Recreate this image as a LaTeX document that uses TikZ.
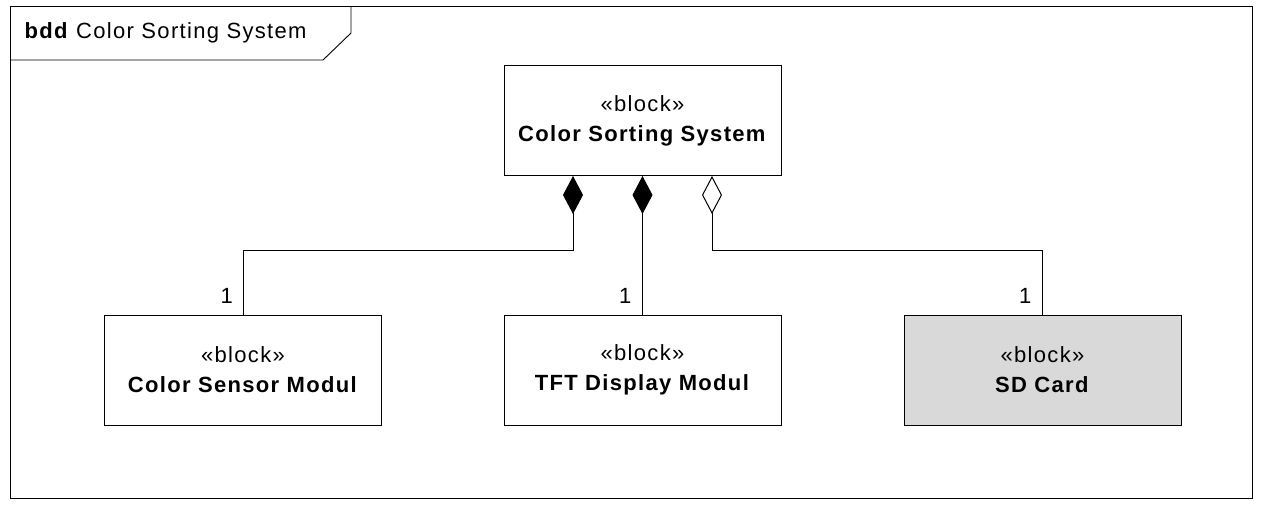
\documentclass[tikz,border=0pt]{standalone}
\usepackage{fontspec}
\setmainfont[LetterSpace=6]{Liberation Sans}
\usepackage{tikz}
\usetikzlibrary{arrows.meta,positioning}

\tikzset{
  blockbox/.style={draw,line width=1pt,minimum width=277pt,minimum height=110pt,align=center,font=\fontsize{22}{30}\selectfont},
  partof/.style={{Diamond[length=38pt,width=20pt,line width=1pt]}-,line width=1pt},
  sharedof/.style={{Diamond[open,length=38pt,width=20pt,line width=1pt]}-,line width=1pt},
  mult/.style={font=\fontsize{22}{24}\selectfont,inner sep=2pt}
}

\begin{document}
\begin{tikzpicture}[x=1pt,y=-1pt]
				\useasboundingbox (0,0) rectangle (1262,506);
				% frame of the bdd
				\draw[line width=0.9pt] (10,6) rectangle (1252,498);
				\draw[line width=0.9pt] (10,60) -- (323,60) -- (351,33) -- (351,6);
				\node[anchor=west,font=\fontsize{22}{24}\selectfont] (title) at (21,33) {\textbf{bdd} Color Sorting System};
				% blocks
				\node[blockbox] (sys) at (642.5,120.5) {«block»\\\textbf{Color Sorting System}};
				\node[blockbox] (sensor) at (243,370) {«block»\\\textbf{Color Sensor Modul}};
				\node[blockbox] (tft) at (642.5,370) {«block»\\\textbf{TFT Display Modul}};
				\node[blockbox,fill=black!15] (sd) at (1042.5,370) {«block»\\\textbf{SD Card}};
				\coordinate (bus) at (0,250);
				\coordinate (c1) at ([xshift=-69.5pt]sys.south);
				\coordinate (c3) at ([xshift=69.5pt]sys.south);
				% connectors
				\draw[partof] (c1) -- (c1 |- bus) -| (sensor.north);
				\draw[partof] (sys.south) -- (tft.north);
				\draw[sharedof] (c3) -- (c3 |- bus) -| (sd.north);
				\node[mult,anchor=south east] (m1) at ([xshift=-8pt,yshift=9pt]sensor.north) {1};
				\node[mult,anchor=south east] (m2) at ([xshift=-9pt,yshift=9pt]tft.north) {1};
				\node[mult,anchor=south east] (m3) at ([xshift=-9pt,yshift=9pt]sd.north) {1};
			\end{tikzpicture}
\end{document}
